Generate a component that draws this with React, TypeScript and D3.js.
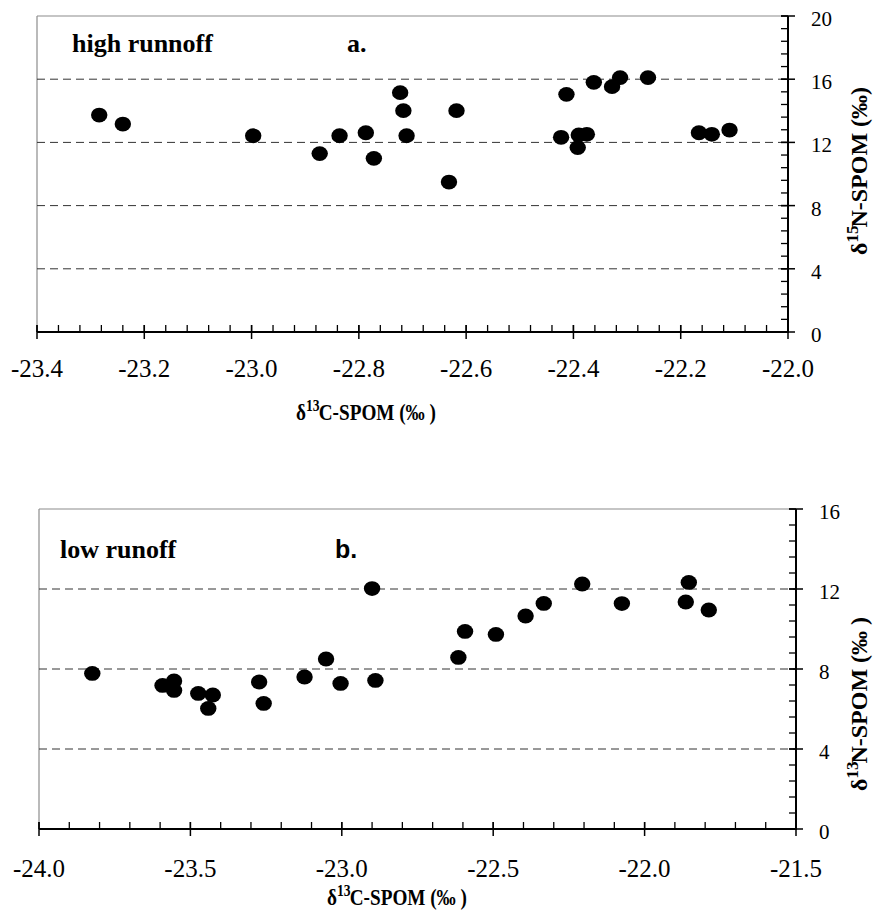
import * as d3 from "d3";
import React from "react";

// panel a: high runoff
const aC = [-23.284, -23.24, -22.997, -22.873, -22.836, -22.787, -22.772, -22.723, -22.717, -22.711, -22.632, -22.618,
  -22.413, -22.423, -22.392, -22.39, -22.375, -22.362, -22.328, -22.313, -22.261, -22.166, -22.142, -22.109];
const aN = [13.73, 13.16, 12.42, 11.29, 12.42, 12.61, 10.99, 15.15, 14.01, 12.42, 9.49, 14.01,
  15.04, 12.32, 11.67, 12.47, 12.51, 15.8, 15.53, 16.1, 16.1, 12.61, 12.51, 12.78];
const aXTicks = [-23.4, -23.2, -23.0, -22.8, -22.6, -22.4, -22.2, -22.0];
const aYTicks = [0, 4, 8, 12, 16, 20];

// panel b: low runoff
const bC = [-23.824, -23.592, -23.554, -23.554, -23.474, -23.426, -23.441, -23.273, -23.258, -23.123, -23.052, -23.004,
  -22.9, -22.889, -22.615, -22.593, -22.491, -22.393, -22.333, -22.206, -22.075, -21.854, -21.864, -21.788];
const bN = [7.78, 7.18, 7.4, 6.93, 6.78, 6.7, 6.03, 7.35, 6.28, 7.6, 8.5, 7.28,
  12.02, 7.43, 8.58, 9.88, 9.73, 10.65, 11.28, 12.25, 11.27, 12.33, 11.35, 10.95];
const bXTicks = [-24.0, -23.5, -23.0, -22.5, -22.0, -21.5];
const bYTicks = [0, 4, 8, 12, 16];

const serif = "Liberation Serif";

function Panel(props: any) {
  const { xs, ys, xTicks, yTicks, xMinor, yMinor, box, label, letter, letterSans, yTitleIso, yTitleY, yTitleParen, xTitleX, xTitleY, xLabelY } = props;
  const x = d3.scaleLinear().domain([xTicks[0], xTicks[xTicks.length - 1]]).range([box.left, box.right]);
  const y = d3.scaleLinear().domain([yTicks[0], yTicks[yTicks.length - 1]]).range([box.bottom, box.top]);
  const xMin = d3.range(xTicks[0], xTicks[xTicks.length - 1] + 1e-9, xMinor);
  const yMin = d3.range(yTicks[0], yTicks[yTicks.length - 1] + 1e-9, yMinor);
  const fmt = (t: number) => t.toFixed(1); // plain hyphen minus like the original
  return (
    <g>
      {/* frame: grey left/top, black axes right/bottom */}
      <line x1={box.left} x2={box.right} y1={box.top} y2={box.top} stroke="#8c8c8c" strokeWidth={1.2} />
      <line x1={box.left} x2={box.left} y1={box.top} y2={box.bottom} stroke="#8c8c8c" strokeWidth={1.2} />
      {yTicks.slice(1).filter((t: number) => y(t) > box.top + 1).map((t: number) => (
        <line key={"g" + t} x1={box.left} x2={box.right} y1={y(t)} y2={y(t)} stroke="#333" strokeWidth={1} strokeDasharray="8,5" />
      ))}
      <line x1={box.left} x2={box.right + 1} y1={box.bottom} y2={box.bottom} stroke="#000" strokeWidth={2} />
      <line x1={box.right} x2={box.right} y1={box.top} y2={box.bottom} stroke="#000" strokeWidth={2} />
      {xMin.map((t: number, i: number) => (
        <line key={"xm" + i} x1={x(t)} x2={x(t)} y1={box.bottom - 7} y2={box.bottom} stroke="#000" strokeWidth={1.3} />
      ))}
      {xTicks.map((t: number) => (
        <g key={"xt" + t}>
          <line x1={x(t)} x2={x(t)} y1={box.bottom - 7} y2={box.bottom + 7} stroke="#000" strokeWidth={1.5} />
          <text x={x(t)} y={xLabelY} textAnchor="middle" fontFamily={serif} fontSize={25}>{fmt(t)}</text>
        </g>
      ))}
      {yMin.map((t: number, i: number) => (
        <line key={"ym" + i} x1={box.right - 7} x2={box.right} y1={y(t)} y2={y(t)} stroke="#000" strokeWidth={1.3} />
      ))}
      {yTicks.map((t: number) => (
        <g key={"yt" + t}>
          <line x1={box.right - 7} x2={box.right + 7} y1={y(t)} y2={y(t)} stroke="#000" strokeWidth={1.5} />
          <text x={box.right + 23} y={y(t) + 10} fontFamily={serif} fontSize={21}>{t}</text>
        </g>
      ))}
      {xs.map((v: number, i: number) => (
        <ellipse key={"p" + i} cx={x(v)} cy={y(ys[i])} rx={8.2} ry={7.4} fill="#000" />
      ))}
      <text x={label.x} y={label.y} fontFamily={serif} fontWeight="bold" fontSize={26}>{label.text}</text>
      <text x={letter.x} y={letter.y} fontFamily={letterSans ? "Liberation Sans" : serif}
        fontWeight="bold" fontSize={letterSans ? 25 : 26}>{letter.text}</text>
      <text transform={`translate(867,${yTitleY}) rotate(-90)`} textAnchor="middle" fontFamily={serif} fontWeight="bold" fontSize={24}>
        δ<tspan fontSize={17} dy={-9}>{yTitleIso}</tspan><tspan dy={9} dx={-2}>N-SPOM {yTitleParen}</tspan>
      </text>
      <text transform={`translate(${xTitleX},${xTitleY}) scale(0.8,1)`} textAnchor="middle" fontFamily={serif} fontWeight="bold" fontSize={24}>
        δ<tspan fontSize={17} dy={-9}>13</tspan><tspan dy={9} dx={-1}>C-SPOM (‰ )</tspan>
      </text>
    </g>
  );
}

export default function App() {
  return (
    <svg width={873} height={921} style={{ position: "absolute", left: 0, top: 0, background: "#fff" }}>
      <Panel xs={aC} ys={aN} xTicks={aXTicks} yTicks={aYTicks} xMinor={0.04} yMinor={0.8}
        box={{ left: 37, right: 788, top: 16, bottom: 332 }}
        label={{ x: 72, y: 52, text: "high runnoff" }} letter={{ x: 347, y: 52, text: "a." }}
        yTitleIso="15" yTitleY={171} yTitleParen="(‰)" xTitleX={366} xTitleY={420} xLabelY={377} />
      <Panel xs={bC} ys={bN} xTicks={bXTicks} yTicks={bYTicks} xMinor={0.1} yMinor={0.8}
        box={{ left: 39, right: 796, top: 509, bottom: 829 }}
        label={{ x: 60, y: 558, text: "low runoff" }} letter={{ x: 335, y: 558, text: "b." }} letterSans
        yTitleIso="13" yTitleY={704} yTitleParen="(‰ )" xTitleX={397} xTitleY={905} xLabelY={877} />
    </svg>
  );
}
